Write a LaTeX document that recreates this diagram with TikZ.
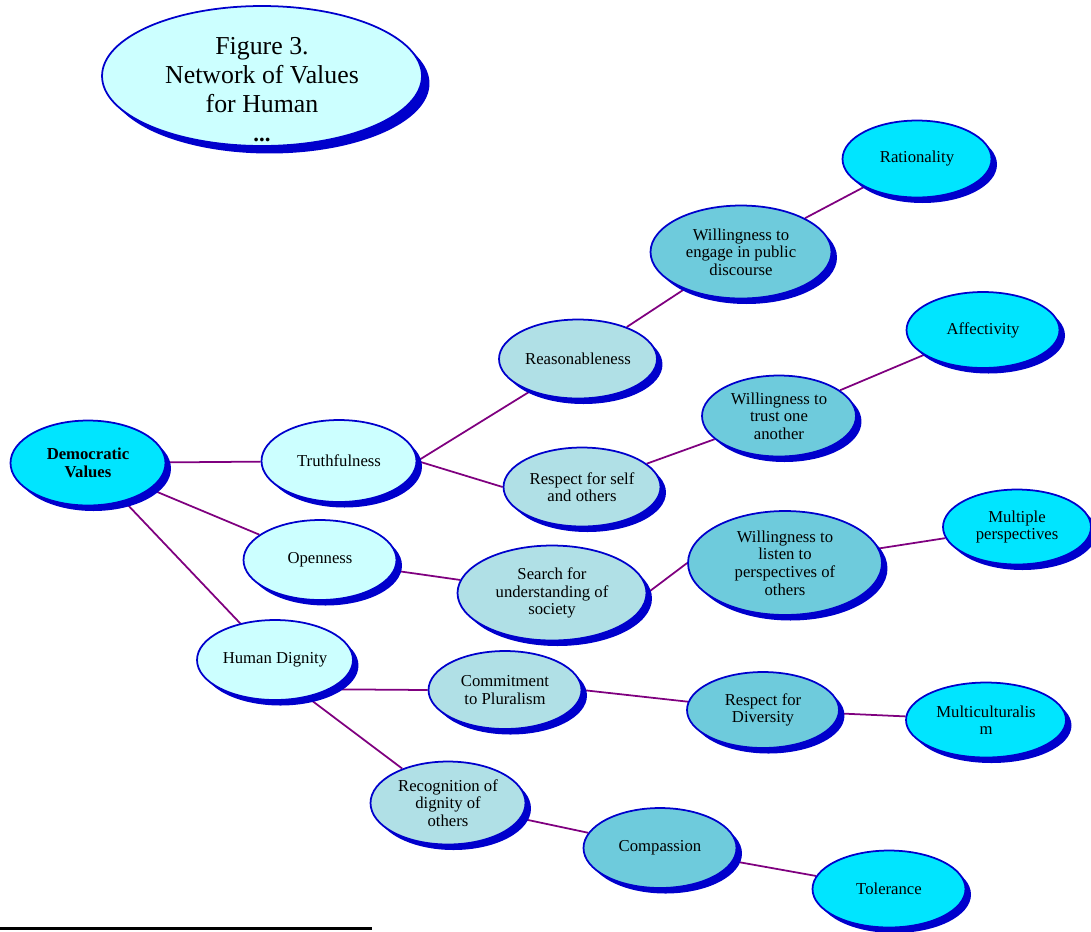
\documentclass[tikz,border=0pt]{standalone}
\usepackage{fontspec}
\setmainfont{Liberation Serif}
\usetikzlibrary{shapes.geometric,shadows,backgrounds}

\definecolor{rimblue}{HTML}{0000CC}
\definecolor{paleaqua}{HTML}{CCFFFF}
\definecolor{brightaqua}{HTML}{00E5FF}
\definecolor{mistblue}{HTML}{B0E0E6}
\definecolor{duskblue}{HTML}{6ECBDC}
\definecolor{linkpurple}{HTML}{7F007F}

\tikzset{
  valuenode/.style={ellipse, draw=rimblue, line width=1pt, align=center, inner sep=0pt,
    font=\fontsize{9.5}{10}\selectfont,
    drop shadow={shadow xshift=0.11cm, shadow yshift=-0.11cm, fill=rimblue, opacity=1}},
  corevalue/.style={valuenode, fill=brightaqua},
  firstvalue/.style={valuenode, fill=paleaqua},
  secondvalue/.style={valuenode, fill=mistblue},
  thirdvalue/.style={valuenode, fill=duskblue},
  link/.style={draw=linkpurple, line width=1pt}
}

\begin{document}
\begin{tikzpicture}[x=0.02cm, y=-0.02cm]
        \useasboundingbox (0,0) rectangle (1091,931);

        % Title
        \node[firstvalue, minimum width=6.4cm, minimum height=2.8cm,
              drop shadow={shadow xshift=0.15cm, shadow yshift=-0.15cm, fill=rimblue, opacity=1},
              label={[align=center, font=\fontsize{14.7}{16.5}\selectfont, yshift=-0.27cm]center:{Figure 3.\\Network of Values\\for Human\\\textbf{\fontsize{13}{12}\selectfont ...}}}]
              (title) at (262,76) {};

        % Root
        \node[corevalue, minimum width=3.1cm, minimum height=1.7cm, font=\bfseries\fontsize{9.5}{10}\selectfont] (demo) at (88,463) {Democratic\\Values};

        % First level
        \node[firstvalue, minimum width=3.1cm, minimum height=1.64cm] (truth) at (339,461) {Truthfulness};
        \node[firstvalue, minimum width=3.06cm, minimum height=1.6cm] (open) at (320,560) {Openness};
        \node[firstvalue, minimum width=3.12cm, minimum height=1.6cm] (dignity) at (275,660) {Human Dignity};

        % Second level
        \node[secondvalue, minimum width=3.16cm, minimum height=1.58cm] (reason) at (578,359) {Reasonableness};
        \node[secondvalue, minimum width=3.14cm, minimum height=1.58cm] (respself) at (582,487) {Respect for self\\and others};
        \node[secondvalue, minimum width=3.78cm, minimum height=1.9cm] (search) at (552,593) {Search for\\understanding of\\society};
        \node[secondvalue, minimum width=3.06cm, minimum height=1.56cm] (plural) at (505,690) {Commitment\\to Pluralism};
        \node[secondvalue, minimum width=3.1cm, minimum height=1.66cm] (recog) at (448,803) {Recognition of\\dignity of\\others};

        % Third level
        \node[thirdvalue, minimum width=3.62cm, minimum height=1.86cm] (engage) at (741,252) {Willingness to\\engage in public\\discourse};
        \node[thirdvalue, minimum width=3.08cm, minimum height=1.62cm] (trust) at (779,416) {Willingness to\\trust one\\another};
        \node[thirdvalue, minimum width=3.88cm, minimum height=2.08cm] (listen) at (785,563) {Willingness to\\listen to\\perspectives of\\others};
        \node[thirdvalue, minimum width=3.04cm, minimum height=1.52cm] (divers) at (763,710) {Respect for\\Diversity};
        \node[thirdvalue, minimum width=3.06cm, minimum height=1.6cm] (compas) at (660,848) {Compassion};

        % Outer values
        \node[corevalue, minimum width=2.98cm, minimum height=1.54cm] (ration) at (917,159) {Rationality};
        \node[corevalue, minimum width=3.06cm, minimum height=1.52cm] (affect) at (983,330) {Affectivity};
        \node[corevalue, minimum width=2.96cm, minimum height=1.5cm] (multip) at (1017,527) {Multiple\\perspectives};
        \node[corevalue, minimum width=3.2cm, minimum height=1.5cm] (multic) at (986,720) {Multiculturalis\\m};
        \node[corevalue, minimum width=3.06cm, minimum height=1.54cm] (toler) at (889,889) {Tolerance};

        % Connections
        \begin{scope}[on background layer]
        \draw[link] (demo) -- (truth);
        \draw[link] (demo) -- (open);
        \draw[link] (demo) -- (dignity);

        \draw[link] (truth.east) -- (reason.214);
        \draw[link] (truth.east) -- (respself.west);
        \draw[link] (reason) -- (engage);
        \draw[link] (engage) -- (ration);
        \draw[link] (respself) -- (trust);
        \draw[link] (trust) -- (affect);

        \draw[link] (open) -- (search);
        \draw[link] (search.east) -- (listen.west);
        \draw[link] (listen) -- (multip);

        \draw[link] (dignity.-28) -- (plural.west);
        \draw[link] (dignity.-49) -- (recog);
        \draw[link] (plural.east) -- (divers);
        \draw[link] (divers) -- (multic);
        \draw[link] (recog) -- (compas);
        \draw[link] (compas) -- (toler);
        \end{scope}

        % Footnote rule
        \draw[line width=1.7pt] (0,928) -- (372,928);
    \end{tikzpicture}
\end{document}
